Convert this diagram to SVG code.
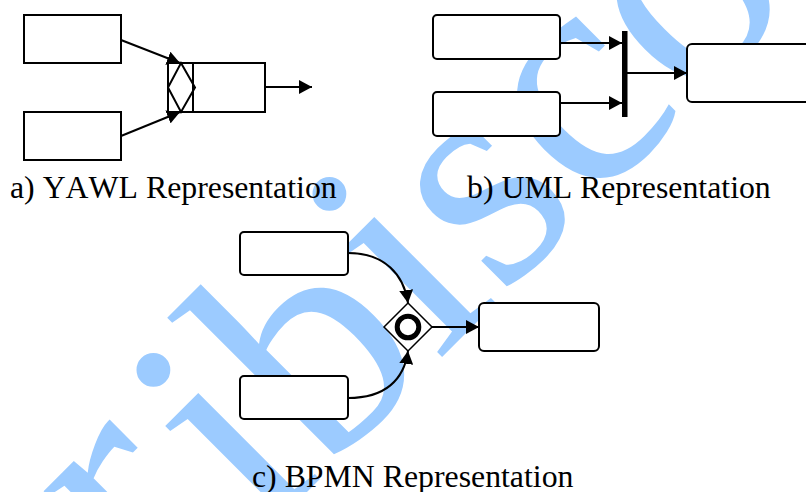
<svg xmlns="http://www.w3.org/2000/svg" width="806" height="492" viewBox="0 0 806 492">
<defs>
<style>
.box{fill:#fff;stroke:#000;stroke-width:2}
.ln{fill:none;stroke:#000;stroke-width:2}
.wm{font-family:'Liberation Serif','Times New Roman',serif;font-size:320px;fill:#9ccbff}
.cap{font-family:'Liberation Serif','Times New Roman',serif;font-size:31.8px;fill:#000;font-kerning:none}
</style>
<marker id="ah" markerUnits="userSpaceOnUse" markerWidth="14" markerHeight="14" refX="13" refY="7" orient="auto">
<path d="M0,0 L13,7 L0,14 z" fill="#000"/>
</marker>
</defs>
<rect width="806" height="492" fill="#fff"/>
<g id="watermark">
<text class="wm" transform="translate(186,613) rotate(-45)"><tspan dx="-21" dy="-40">r</tspan><tspan dx="21" dy="40">ibisco</tspan></text>
</g>
<g id="connectors">
<line class="ln" x1="121" y1="40" x2="180" y2="63" marker-end="url(#ah)"/>
<line class="ln" x1="121" y1="136" x2="180" y2="112" marker-end="url(#ah)"/>
<line class="ln" x1="265" y1="87" x2="312" y2="87" marker-end="url(#ah)"/>
<line class="ln" x1="560" y1="43" x2="622" y2="43" marker-end="url(#ah)"/>
<line class="ln" x1="560" y1="103" x2="622" y2="103" marker-end="url(#ah)"/>
<line class="ln" x1="627" y1="73" x2="687" y2="73" marker-end="url(#ah)"/>
<path class="ln" d="M348,253 C385,253 404,275 408,303" marker-end="url(#ah)"/>
<path class="ln" d="M348,398 C385,398 404,380 408,351" marker-end="url(#ah)"/>
<line class="ln" x1="432" y1="327" x2="479" y2="327" marker-end="url(#ah)"/>
</g>
<g id="yawl-a"><rect class="box" x="24" y="15" width="97" height="48"/></g>
<g id="yawl-b"><rect class="box" x="24" y="112" width="97" height="48"/></g>
<g id="yawl-task">
<rect class="box" x="168" y="63" width="97" height="49"/>
<line class="ln" x1="193" y1="63" x2="193" y2="112"/>
<path class="ln" d="M181,63 L195,87.5 L181,112 L168,87.5 Z"/>
</g>
<g id="uml-a"><rect class="box" x="433" y="15" width="127" height="44" rx="4"/></g>
<g id="uml-b"><rect class="box" x="433" y="92" width="127" height="44" rx="4"/></g>
<g id="uml-join"><rect x="622" y="31" width="5.5" height="86" fill="#000"/></g>
<g id="uml-c"><rect class="box" x="687" y="44" width="125" height="58" rx="5"/></g>
<g id="bpmn-a"><rect class="box" x="240" y="232" width="108" height="43" rx="4"/></g>
<g id="bpmn-b"><rect class="box" x="240" y="376" width="108" height="43" rx="4"/></g>
<g id="bpmn-gateway">
<path d="M408,303 L432,327 L408,351 L384,327 Z" fill="#fff" stroke="#000" stroke-width="1.5"/>
<circle cx="408" cy="327" r="10.8" fill="none" stroke="#000" stroke-width="5"/>
</g>
<g id="bpmn-c"><rect class="box" x="479" y="303" width="120" height="48" rx="5"/></g>
<g id="captions">
<text class="cap" x="10" y="198">a) YAWL Representation</text>
<text class="cap" x="467" y="198">b) UML Representation</text>
<text class="cap" x="252" y="487">c) BPMN Representation</text>
</g>
</svg>
